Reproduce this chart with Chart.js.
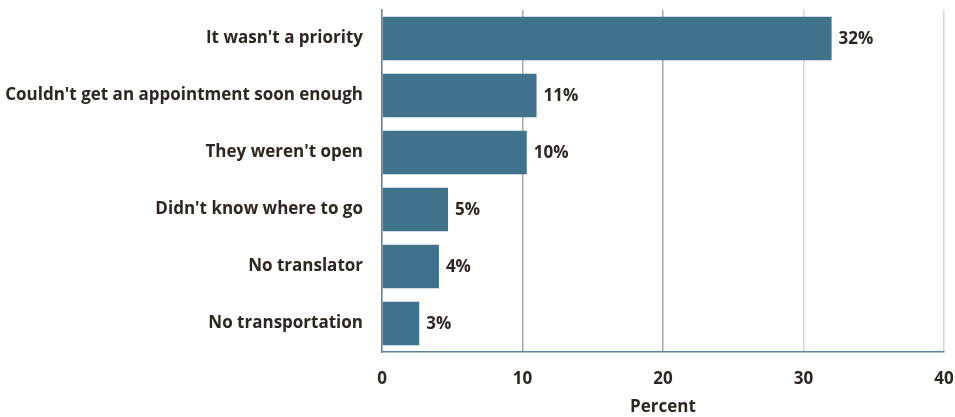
<!DOCTYPE html>
<html>
<head>
<meta charset="utf-8">
<script src="https://cdn.jsdelivr.net/npm/chart.js@4"></script>
<style>
  html, body { margin: 0; padding: 0; background: #fff; }
  #wrap { width: 955px; height: 417px; position: relative; }
</style>
</head>
<body>
<div id="wrap"><canvas id="reasonsChart"></canvas></div>
<script>
// Reasons for not getting care (percent)
const categories = [
  "It wasn't a priority",
  "Couldn't get an appointment soon enough",
  "They weren't open",
  "Didn't know where to go",
  "No translator",
  "No transportation"
];
const percentValues = [32, 11, 10.3, 4.7, 4.05, 2.65];
const xTicks = [0, 10, 20, 30, 40];

const barColor = "#41728b";
const textColor = "#2e2622";
const fontFamily = "'Open Sans', sans-serif";
const labelFont = { family: fontFamily, size: 17, weight: "bold" };

// draws the "32%" labels at the end of each bar
const valueLabels = {
  id: "valueLabels",
  afterDatasetsDraw(chart) {
    const ctx = chart.ctx;
    const meta = chart.getDatasetMeta(0);
    ctx.save();
    ctx.fillStyle = textColor;
    ctx.font = "bold 17px " + fontFamily;
    ctx.textBaseline = "middle";
    ctx.textAlign = "left";
    meta.data.forEach((bar, i) => {
      ctx.fillText(Math.round(percentValues[i]) + "%", bar.x + 7, bar.y + 1);
    });
    ctx.restore();
  }
};

const ctx = document.getElementById("reasonsChart").getContext("2d");
new Chart(ctx, {
  type: "bar",
  data: {
    labels: categories,
    datasets: [{
      data: percentValues,
      backgroundColor: barColor,
      barPercentage: 0.76,
      categoryPercentage: 1.0
    }]
  },
  options: {
    indexAxis: "y",
    responsive: true,
    maintainAspectRatio: false,
    animation: false,
    layout: { padding: { top: 10, right: 11, left: 0, bottom: 0 } },
    plugins: {
      legend: { display: false },
      tooltip: { enabled: false }
    },
    scales: {
      x: {
        min: 0,
        max: 40,
        afterBuildTicks: (axis) => { axis.ticks = xTicks.map(v => ({ value: v })); },
        afterFit: (axis) => {
          axis.height = 65;
          axis.paddingLeft = 0;
          axis.paddingRight = 0;
        },
        grid: {
          drawTicks: false,
          color: (c) => (c.tick && (c.tick.value === 10 || c.tick.value === 20)) ? "#a8a8a8" : "#d9d6d3",
          lineWidth: 1.5
        },
        border: { color: "#5a849a", width: 1.5 },
        ticks: { color: textColor, font: labelFont, padding: 17 },
        title: {
          display: true,
          text: "Percent",
          color: textColor,
          font: labelFont,
          padding: { top: 0, bottom: 0 }
        }
      },
      y: {
        afterFit: (axis) => {
          axis.width = 382;
          axis.paddingTop = 0;
          axis.paddingBottom = 0;
        },
        grid: { display: false, drawTicks: false },
        border: { color: "#5a849a", width: 1.5 },
        ticks: { color: textColor, font: labelFont, padding: 19 }
      }
    }
  },
  plugins: [valueLabels]
});
</script>
</body>
</html>
